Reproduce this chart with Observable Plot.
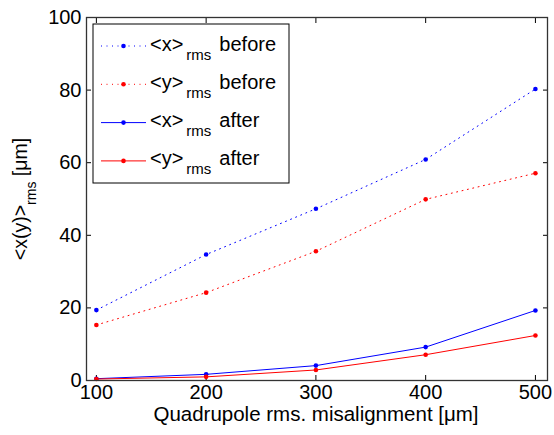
<!DOCTYPE html>
<html>
<head>
<meta charset="utf-8">
<script src="https://cdn.jsdelivr.net/npm/d3@7"></script>
<script src="https://cdn.jsdelivr.net/npm/@observablehq/plot@0.6"></script>
<style>
  html, body { margin: 0; padding: 0; background: #fff; }
  svg { font-family: "Liberation Sans", Arial, Helvetica, sans-serif; }
</style>
</head>
<body>
<div id="chart"></div>
<script>
// Data
const misalignment = [100, 200, 300, 400, 500];
const xBefore = [19.4, 34.7, 47.3, 60.9, 80.3];
const yBefore = [15.3, 24.2, 35.6, 49.9, 57.1];
const xAfter  = [0.5, 1.7, 4.1, 9.2, 19.3];
const yAfter  = [0.4, 1.0, 2.9, 7.1, 12.4];
const xTicks = [100, 200, 300, 400, 500];
const yTicks = [0, 20, 40, 60, 80, 100];

const seriesNames = ["<x>", "<y>", "<x>", "<y>"];
const seriesWhen = ["before", "before", "after", "after"];
const seriesColors = ["#0000ff", "#ff0000", "#0000ff", "#ff0000"];
const seriesDotted = [true, true, false, false];
const seriesValues = [xBefore, yBefore, xAfter, yAfter];

const rows = [];
seriesValues.forEach((vals, s) => {
  vals.forEach((v, i) => rows.push({s, x: misalignment[i], y: v}));
});

const dash = "1,4.5";
const marks = [];
seriesValues.forEach((vals, s) => {
  const data = rows.filter(d => d.s === s);
  marks.push(Plot.line(data, {
    x: "x", y: "y", stroke: seriesColors[s], strokeWidth: 1,
    strokeDasharray: seriesDotted[s] ? dash : null
  }));
  marks.push(Plot.dot(data, {x: "x", y: "y", r: 2.3, fill: seriesColors[s], stroke: "none"}));
});

const fmt = () => "";
const chart = Plot.plot({
  width: 554,
  height: 435,
  marginLeft: 86,
  marginRight: 7,
  marginTop: 17,
  marginBottom: 55,
  style: {fontSize: "20px", fontFamily: "'Liberation Sans', Arial, Helvetica, sans-serif", color: "#000", background: "#fff"},
  x: {domain: [91, 511], ticks: xTicks},
  y: {domain: [0, 100], ticks: yTicks},
  marks: [
    Plot.axisX({anchor: "bottom", ticks: xTicks, tickSize: 0, tickPadding: 4, label: null, fontSize: 20}),
    Plot.axisY({anchor: "left", ticks: yTicks, tickSize: 0, tickPadding: 5, label: null, fontSize: 20}),
    Plot.axisX({anchor: "bottom", ticks: xTicks, tickSize: -5, tickFormat: fmt, label: null}),
    Plot.axisX({anchor: "top", ticks: xTicks, tickSize: -5, tickFormat: fmt, label: null}),
    Plot.axisY({anchor: "left", ticks: yTicks, tickSize: -5, tickFormat: fmt, label: null}),
    Plot.axisY({anchor: "right", ticks: yTicks, tickSize: -5, tickFormat: fmt, label: null}),
    ...marks,
    Plot.frame({stroke: "#333", strokeWidth: 1.3})
  ]
});
document.getElementById("chart").appendChild(chart);

const svg = d3.select(chart);
const font = "'Liberation Sans', Arial, Helvetica, sans-serif";

// x label
svg.append("text")
  .attr("x", 316).attr("y", 421)
  .attr("text-anchor", "middle")
  .attr("font-size", 20.5).attr("font-family", font)
  .text("Quadrupole rms. misalignment [\u03bcm]");

// y label with subscript
const yl = svg.append("text")
  .attr("transform", "translate(27,199) rotate(-90)")
  .attr("text-anchor", "middle")
  .attr("font-size", 19.5).attr("font-family", font);
yl.append("tspan").text("<x(y)>");
yl.append("tspan").attr("font-size", 14).attr("dy", 9).text("rms");
yl.append("tspan").attr("dy", -9).text(" [\u03bcm]");

// legend
const lg = svg.append("g").attr("text-anchor", "start");
lg.append("rect").attr("x", 93).attr("y", 24).attr("width", 196).attr("height", 159)
  .attr("fill", "#fff").attr("stroke", "#000").attr("stroke-width", 1);
seriesNames.forEach((name, s) => {
  const cy = 46 + s * 38.3;
  lg.append("line").attr("x1", 101).attr("x2", 146).attr("y1", cy).attr("y2", cy)
    .attr("stroke", seriesColors[s]).attr("stroke-width", 1)
    .attr("stroke-dasharray", seriesDotted[s] ? dash : null);
  lg.append("circle").attr("cx", 123.5).attr("cy", cy).attr("r", 2.3).attr("fill", seriesColors[s]);
  const t = lg.append("text").attr("x", 150).attr("y", cy + 4.5)
    .attr("text-anchor", "start")
    .attr("font-size", 20).attr("font-family", font);
  t.append("tspan").text(name);
  t.append("tspan").attr("font-size", 15).attr("dy", 9).attr("dx", 3).text("rms");
  t.append("tspan").attr("dy", -9).attr("dx", 8).text(seriesWhen[s]);
});
</script>
</body>
</html>
